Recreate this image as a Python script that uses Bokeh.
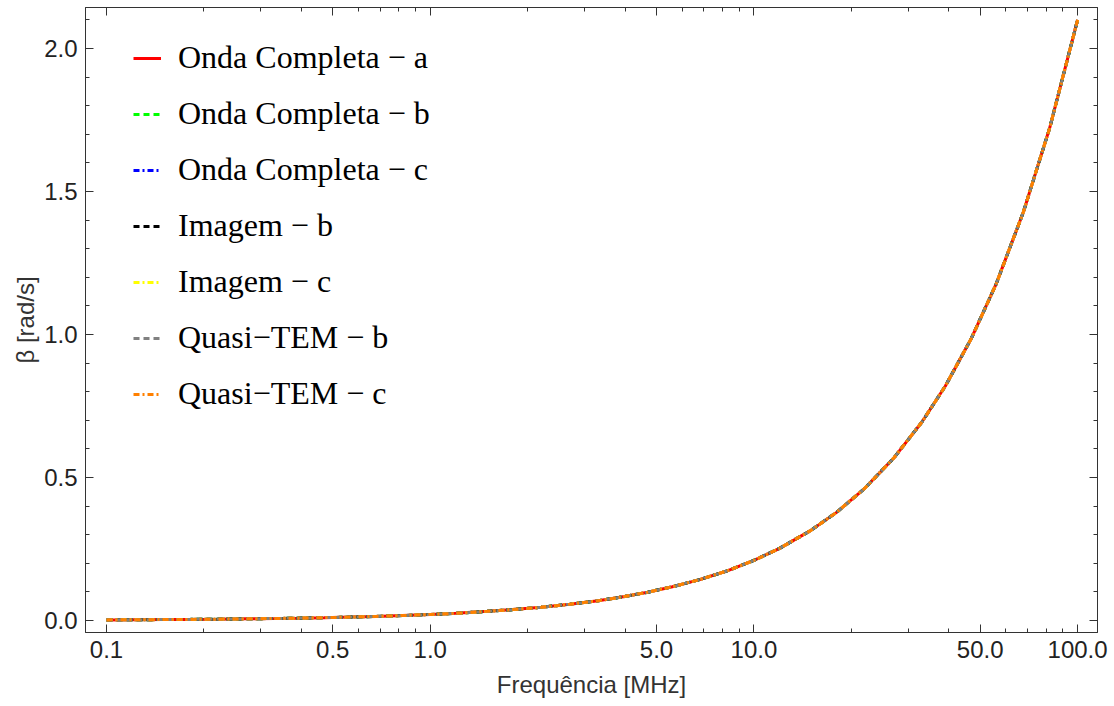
from bokeh.plotting import figure
from bokeh.models import (Range1d, FixedTicker, LinearAxis, LogAxis, Legend, LegendItem)
from bokeh.embed import file_html
from bokeh.resources import INLINE

# ---- data ----
freq_mhz = [0.1, 0.12, 0.15, 0.18, 0.22, 0.27, 0.33, 0.39, 0.47, 0.56, 0.68, 0.82,
            1.0, 1.2, 1.5, 1.8, 2.2, 2.7, 3.3, 3.9, 4.7, 5.6, 6.8, 8.2,
            10.0, 12.0, 15.0, 18.0, 22.0, 27.0, 33.0, 39.0, 47.0, 56.0, 68.0, 82.0, 100.0]
beta_values = [0.0021, 0.0025, 0.0032, 0.0038, 0.0046, 0.0057, 0.0069, 0.0082, 0.0099,
               0.0118, 0.0143, 0.0172,
               0.021, 0.025, 0.032, 0.038, 0.046, 0.057, 0.069, 0.082, 0.099, 0.118,
               0.143, 0.172,
               0.21, 0.252, 0.315, 0.378, 0.462, 0.567, 0.693, 0.819, 0.987, 1.176,
               1.428, 1.722, 2.10]
series_names = ["Onda Completa \u2212 a", "Onda Completa \u2212 b", "Onda Completa \u2212 c",
                "Imagem \u2212 b", "Imagem \u2212 c", "Quasi\u2212TEM \u2212 b", "Quasi\u2212TEM \u2212 c"]
x_tick_values = [0.1, 0.5, 1.0, 5.0, 10.0, 50.0, 100.0]
x_tick_labels = ["0.1", "0.5", "1.0", "5.0", "10.0", "50.0", "100.0"]
x_minor_values = [0.2, 0.3, 0.4, 0.6, 0.7, 0.8, 0.9, 2, 3, 4, 6, 7, 8, 9,
                  20, 30, 40, 60, 70, 80, 90]
y_tick_values = [0.0, 0.5, 1.0, 1.5, 2.0]
y_tick_labels = ["0.0", "0.5", "1.0", "1.5", "2.0"]
y_minor_values = [0.1, 0.2, 0.3, 0.4, 0.6, 0.7, 0.8, 0.9, 1.1, 1.2, 1.3, 1.4,
                  1.6, 1.7, 1.8, 1.9, 2.1]

# ---- styles ----
styles = [
    dict(color="#FF0000", dash="solid"),
    dict(color="#00FF00", dash="6 4"),
    dict(color="#0000FF", dash="6 3 2 3"),
    dict(color="#000000", dash="6 4"),
    dict(color="#FFFF00", dash="6 3 2 3"),
    dict(color="#808080", dash="6 4"),
    dict(color="#FF8000", dash="6 3 2 3"),
]

p = figure(width=1114, height=706, x_axis_type="log",
           x_range=Range1d(0.0861, 115.2), y_range=Range1d(-0.042, 2.143),
           output_backend="svg", toolbar_location=None,
           min_border_left=85, min_border_right=17, min_border_top=7, min_border_bottom=74)
p.grid.visible = False
p.outline_line_color = "#333333"
p.background_fill_color = "white"
p.border_fill_color = "white"

items = []
for name, st in zip(series_names, styles):
    r = p.line(freq_mhz, beta_values, line_color=st["color"], line_dash=st["dash"], line_width=3)
    items.append(LegendItem(label=name, renderers=[r]))

xt = FixedTicker(ticks=x_tick_values, minor_ticks=x_minor_values)
yt = FixedTicker(ticks=y_tick_values, minor_ticks=y_minor_values)

def style_axis(ax, labels=True):
    ax.axis_line_color = "#333333"
    ax.major_tick_line_color = "#333333"
    ax.minor_tick_line_color = "#333333"
    ax.major_tick_in = 8
    ax.major_tick_out = 0
    ax.minor_tick_in = 4
    ax.minor_tick_out = 0
    ax.major_label_text_font = "Liberation Sans"
    ax.major_label_text_font_size = "24px"
    ax.major_label_text_color = "#222222"
    ax.axis_label_text_font = "Liberation Sans"
    ax.axis_label_text_font_size = "24px"
    ax.axis_label_text_font_style = "normal"
    ax.axis_label_text_color = "#333333"
    if not labels:
        ax.major_label_text_font_size = "0px"
        ax.major_label_standoff = 0

xa = p.xaxis[0]
xa.ticker = xt
xa.major_label_overrides = {v: l for v, l in zip(x_tick_values, x_tick_labels)}
xa.axis_label = "Frequência [MHz]"
xa.major_label_standoff = 8
xa.axis_label_standoff = 10
style_axis(xa)

ya = p.yaxis[0]
ya.ticker = yt
ya.major_label_overrides = {v: l for v, l in zip(y_tick_values, y_tick_labels)}
ya.axis_label = "β [rad/s]"
ya.major_label_standoff = 8
ya.axis_label_standoff = 2
style_axis(ya)

top = LogAxis(ticker=FixedTicker(ticks=x_tick_values, minor_ticks=x_minor_values))
style_axis(top, labels=False)
top.major_label_overrides = {v: "" for v in x_tick_values}
p.add_layout(top, "above")

right = LinearAxis(ticker=FixedTicker(ticks=y_tick_values, minor_ticks=y_minor_values))
style_axis(right, labels=False)
right.major_label_overrides = {v: "" for v in y_tick_values}
p.add_layout(right, "right")

legend = Legend(items=items, location=(48, 220))
legend.label_text_font = "Liberation Serif"
legend.label_text_font_size = "32px"
legend.label_text_color = "#000000"
legend.glyph_width = 28
legend.glyph_height = 30
legend.label_height = 30
legend.spacing = 19
legend.label_standoff = 17
legend.padding = 0
legend.margin = 0
legend.border_line_color = None
legend.background_fill_alpha = 0
p.add_layout(legend)

open("out.html", "w").write(file_html(p, INLINE))
